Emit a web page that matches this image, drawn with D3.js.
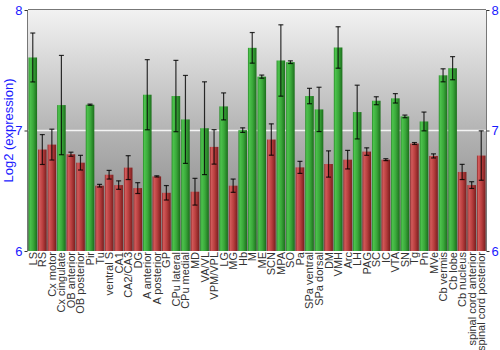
<!DOCTYPE html>
<html>
<head>
<meta charset="utf-8">
<script src="https://cdn.jsdelivr.net/npm/d3@7"></script>
<style>
  html, body { margin: 0; padding: 0; background: #fff; }
  svg { display: block; font-family: "Liberation Sans", Arial, sans-serif; }
</style>
</head>
<body>
<svg id="chart" width="500" height="350"></svg>
<script>
// Brain regions
const regions = [
  "LS", "RS", "Cx motor", "Cx cingulate", "OB anterior", "OB posterior", "Pir", "Tu",
  "ventral S", "CA1", "CA2/CA3", "DG", "A anterior", "A posterior", "GP", "CPu lateral",
  "CPu medial", "MD", "VA/VL", "VPM/VPL", "LG", "MG", "Hb", "M", "ME", "SCN", "MPA",
  "SO", "Pa", "SPa ventral", "SPa dorsal", "DM", "VMH", "Arc", "LH", "PAG", "SC", "IC",
  "VTA", "SN", "Tg", "Pn", "MVe", "Cb vermis", "Cb lobe", "Cb nucleus",
  "spinal cord anterior", "spinal cord posterior"
];

// Mean log2 expression per region
const expression = [
  7.606, 6.842, 6.883, 7.211, 6.803, 6.733, 7.214, 6.542,
  6.633, 6.547, 6.692, 6.522, 7.297, 6.619, 6.483, 7.286,
  7.092, 6.492, 7.019, 6.864, 7.200, 6.542, 7.003, 7.686, 7.447, 6.925, 7.581,
  7.567, 6.694, 7.286, 7.175, 6.722, 7.689, 6.758, 7.153, 6.825, 7.247, 6.758,
  7.267, 7.117, 6.892, 7.075, 6.789, 7.458, 7.517, 6.656,
  6.547, 6.792
];

// Error half-widths
const errors = [
  0.203, 0.124, 0.128, 0.412, 0.017, 0.061, 0.005, 0.011,
  0.036, 0.035, 0.099, 0.045, 0.291, 0.005, 0.060, 0.296,
  0.365, 0.111, 0.385, 0.143, 0.112, 0.055, 0.019, 0.127, 0.013, 0.130, 0.296,
  0.011, 0.050, 0.064, 0.184, 0.109, 0.172, 0.077, 0.223, 0.031, 0.033, 0.008,
  0.039, 0.011, 0.008, 0.078, 0.017, 0.054, 0.096, 0.063,
  0.028, 0.205
];

const yTicks = [6, 7, 8];
const threshold = 7;

const svg = d3.select("#chart");
const margin = { left: 28, right: 14, top: 10, bottom: 99 };
const W = 500, H = 350;
const x0 = margin.left, x1 = W - margin.right;
const y0 = H - margin.bottom, y1 = margin.top;

const x = d3.scaleBand().domain(regions).range([x0, x1]).paddingInner(0.1).paddingOuter(0.05);
const y = d3.scaleLinear().domain([6, 8]).range([y0, y1]);

const defs = svg.append("defs");
const bg = defs.append("linearGradient").attr("id", "bg").attr("x1", 0).attr("y1", 0).attr("x2", 0).attr("y2", 1);
bg.append("stop").attr("offset", "0%").attr("stop-color", "#f2f2f2");
bg.append("stop").attr("offset", "50%").attr("stop-color", "#b4b4b4");
bg.append("stop").attr("offset", "100%").attr("stop-color", "#7e7e7e");

function barGrad(id, stops) {
  const g = defs.append("linearGradient").attr("id", id).attr("x1", 0).attr("y1", 0).attr("x2", 1).attr("y2", 0);
  stops.forEach(([o, c]) => g.append("stop").attr("offset", o).attr("stop-color", c));
}
barGrad("gGreen", [["0%", "#2a8a2a"], ["18%", "#4cc24c"], ["55%", "#3aa83a"], ["100%", "#1c6e1c"]]);
barGrad("gRed", [["0%", "#8a2a2a"], ["18%", "#d25a5a"], ["55%", "#b83e3e"], ["100%", "#7a1e1e"]]);

// plot background
svg.append("rect").attr("x", x0).attr("y", y1).attr("width", x1 - x0).attr("height", y0 - y1)
  .attr("fill", "url(#bg)");

// grid line at 7
svg.append("line").attr("x1", x0).attr("x2", x1).attr("y1", y(7)).attr("y2", y(7))
  .attr("stroke", "#f4f4f4").attr("stroke-width", 1.5);

const data = regions.map((r, i) => ({ r, v: expression[i], e: errors[i] }));

// bars
svg.append("g").selectAll("rect").data(data).join("rect")
  .attr("x", d => x(d.r))
  .attr("width", x.bandwidth())
  .attr("y", d => y(d.v))
  .attr("height", d => y(6) - y(d.v))
  .attr("fill", d => d.v >= threshold ? "url(#gGreen)" : "url(#gRed)");

// error bars
const eg = svg.append("g").attr("stroke", "#000").attr("stroke-opacity", 0.8).attr("stroke-width", 1.2).attr("fill", "none");
data.forEach(d => {
  const cx = x(d.r) + x.bandwidth() / 2;
  const ya = y(d.v + d.e), yb = y(d.v - d.e);
  eg.append("line").attr("x1", cx).attr("x2", cx).attr("y1", ya).attr("y2", yb);
  eg.append("line").attr("x1", cx - 2.5).attr("x2", cx + 2.5).attr("y1", ya).attr("y2", ya);
  eg.append("line").attr("x1", cx - 2.5).attr("x2", cx + 2.5).attr("y1", yb).attr("y2", yb);
});

// frame lines
svg.append("line").attr("x1", x0).attr("x2", x1).attr("y1", y1 - 0.5).attr("y2", y1 - 0.5).attr("stroke", "#777");
svg.append("line").attr("x1", x0 - 0.5).attr("x2", x0 - 0.5).attr("y1", y1).attr("y2", y0).attr("stroke", "#777");
svg.append("line").attr("x1", x1 + 0.5).attr("x2", x1 + 0.5).attr("y1", y1).attr("y2", y0).attr("stroke", "#777");

// left axis
const left = svg.append("g").attr("transform", `translate(${x0 - 0.5},0)`)
  .call(d3.axisLeft(y).tickValues(yTicks).tickFormat(d3.format("d")).tickSize(3).tickPadding(2));
left.select(".domain").remove();
left.selectAll("line").attr("stroke", "#333");
left.selectAll("text").attr("fill", "#1a1aff").attr("font-size", 13).attr("font-family", "Liberation Sans, Arial, sans-serif");

// right axis
const right = svg.append("g").attr("transform", `translate(${x1 + 0.5},0)`)
  .call(d3.axisRight(y).tickValues(yTicks).tickFormat(d3.format("d")).tickSize(3).tickPadding(2));
right.select(".domain").remove();
right.selectAll("line").attr("stroke", "#333");
right.selectAll("text").attr("fill", "#1a1aff").attr("font-size", 13).attr("font-family", "Liberation Sans, Arial, sans-serif");

// y title
svg.append("text")
  .attr("transform", `translate(13,${(y0 + y1) / 2}) rotate(-90)`)
  .attr("text-anchor", "middle")
  .attr("fill", "#1a1aff")
  .attr("font-size", 13)
  .text("Log2 (expression)");

// category labels
svg.append("g").selectAll("text").data(regions).join("text")
  .attr("transform", d => `translate(${x(d) + x.bandwidth() / 2 + 4},${y0 + 1}) rotate(-90)`)
  .attr("text-anchor", "end")
  .attr("fill", "#333")
  .attr("font-size", 11)
  .text(d => d);
</script>
</body>
</html>
